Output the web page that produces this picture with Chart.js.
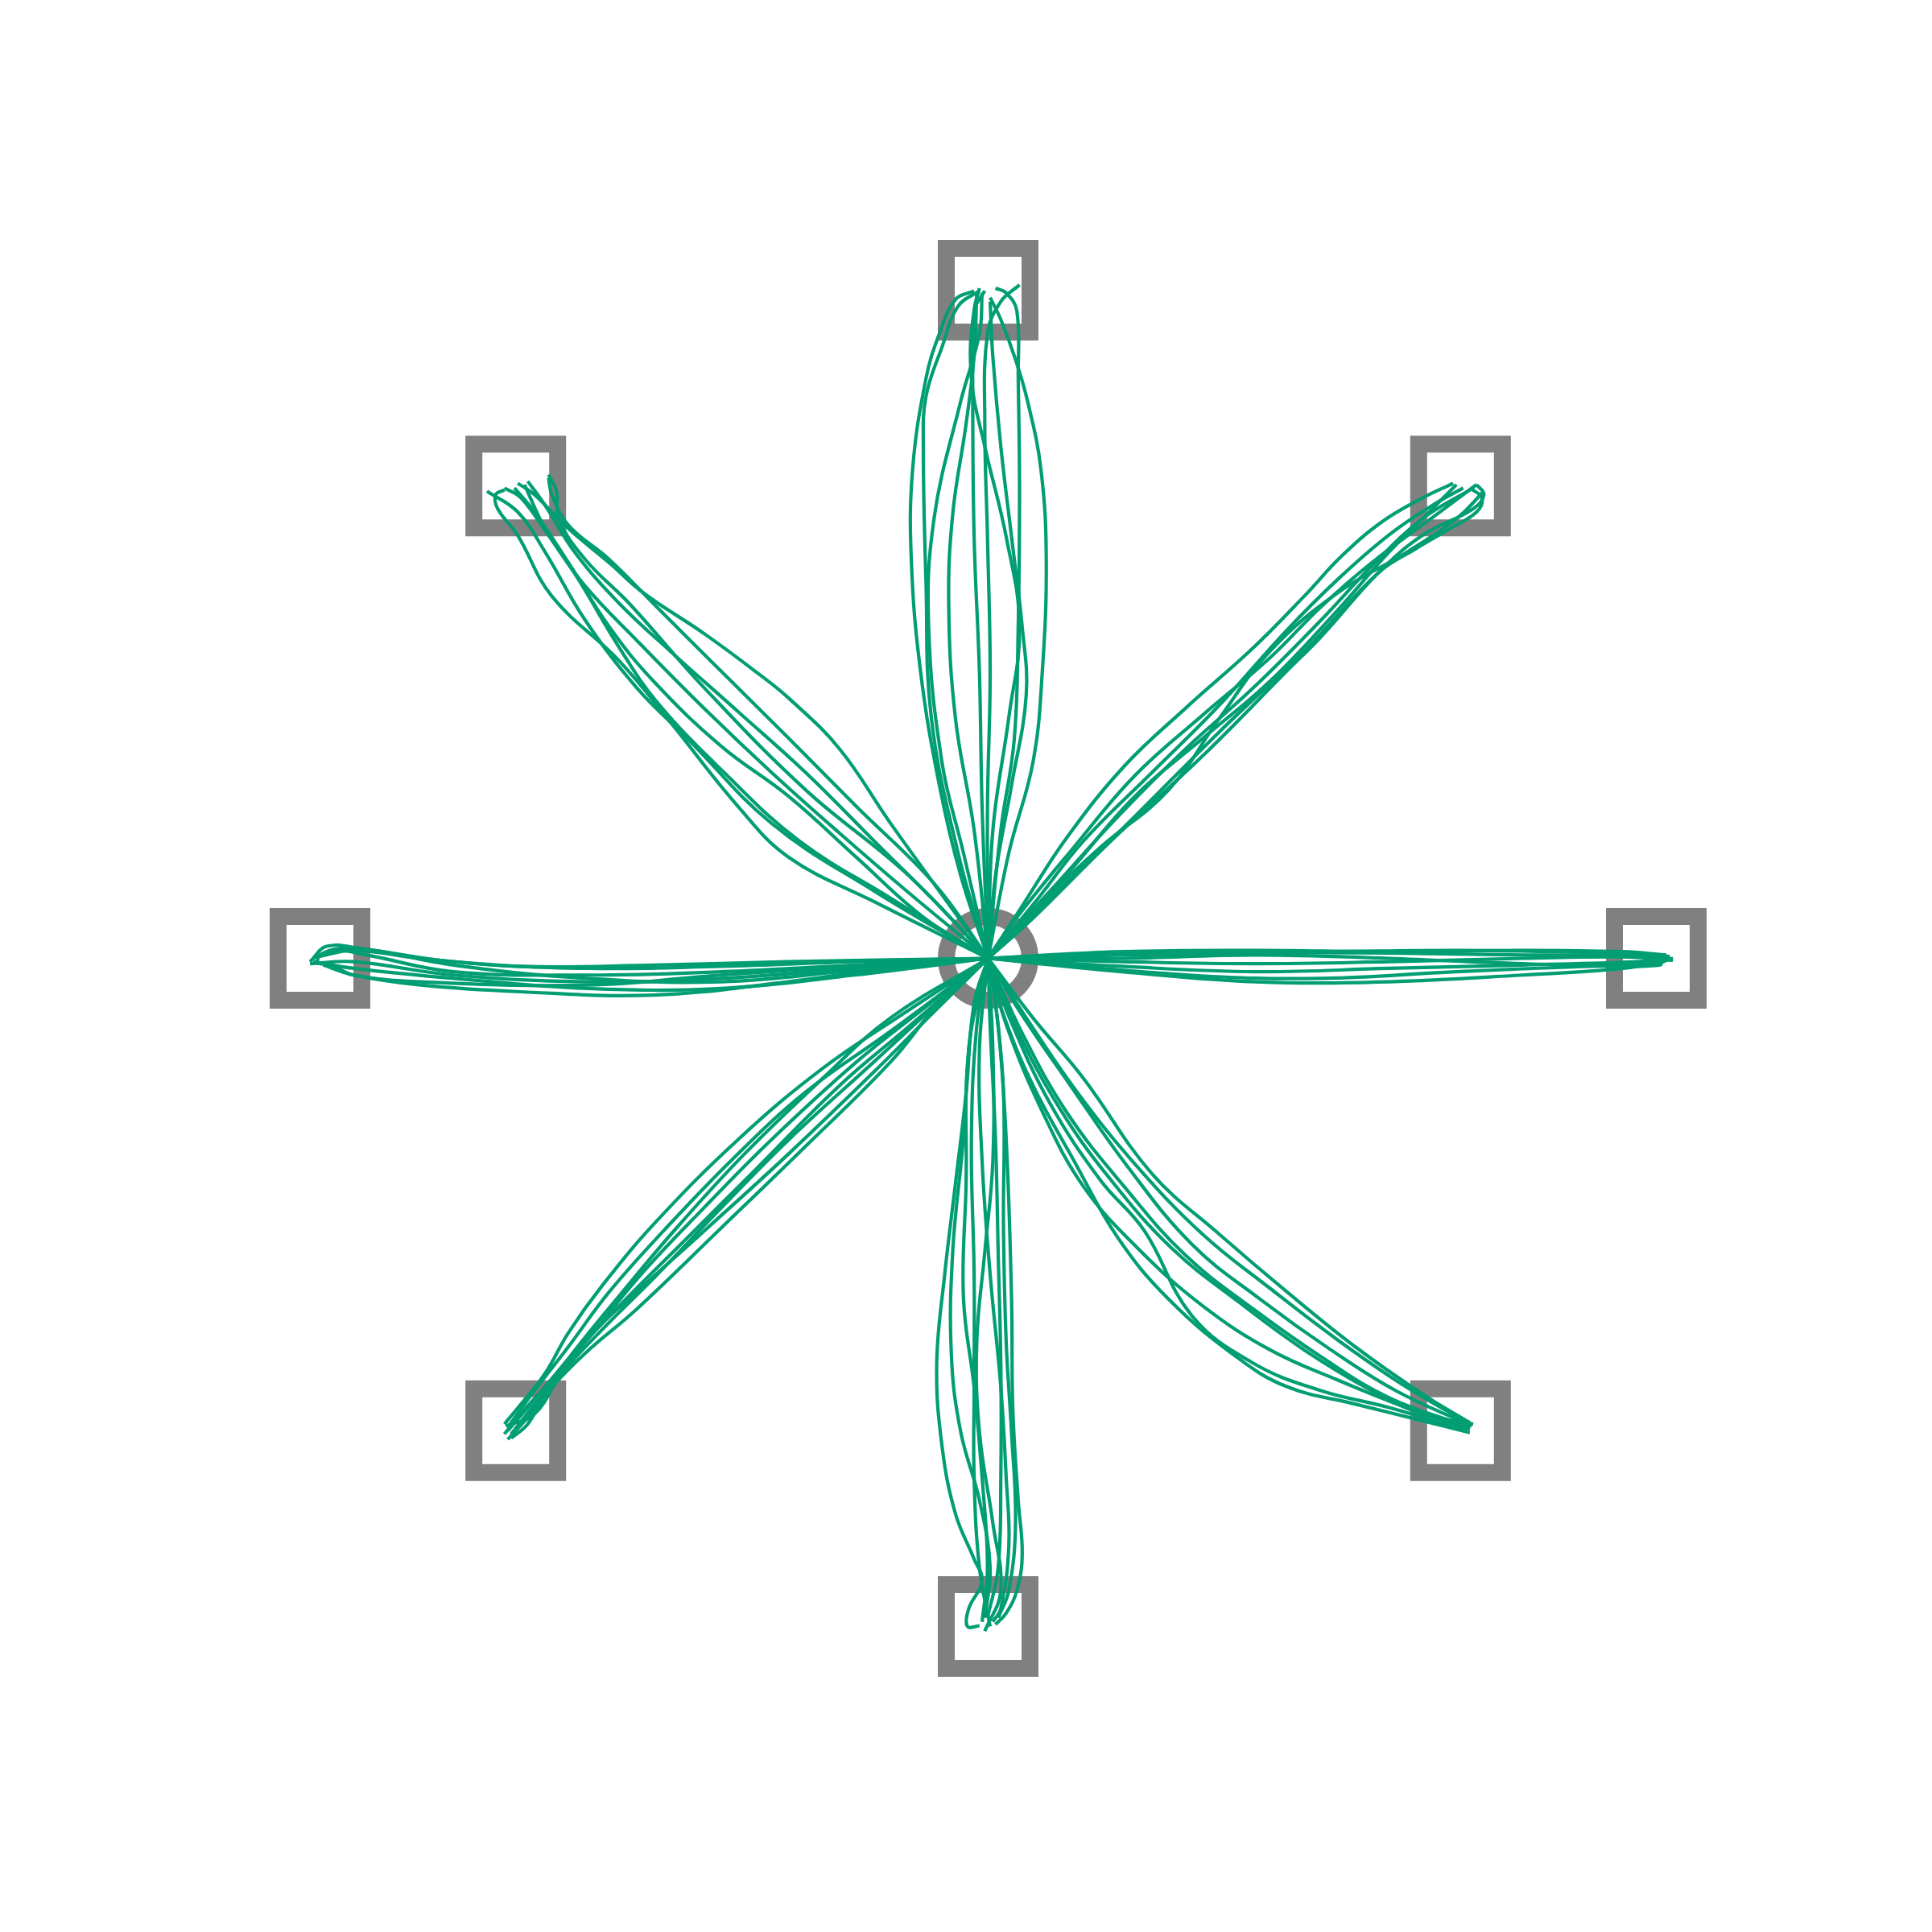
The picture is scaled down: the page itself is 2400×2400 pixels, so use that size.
<!DOCTYPE html>
<html>
<head>
<meta charset="utf-8">
<script src="https://cdn.jsdelivr.net/npm/chart.js@4.4.1/dist/chart.umd.min.js"></script>
<style>
  html, body { margin: 0; padding: 0; background: #ffffff; }
  #wrap { width: 2400px; height: 2400px; }
</style>
</head>
<body>
<div id="wrap"><canvas id="c" width="2400" height="2400"></canvas></div>
<script>
// Target positions (target distance 10)
const targetX = [0, 7.07, 10, 7.07, 0, -7.07, -10, -7.07];
const targetY = [10, 7.07, 0, -7.07, -10, -7.07, 0, 7.07];
const startX = [0];
const startY = [0];

// Reach trajectories, one list of [x, y] samples per movement
const reachUp = [
  [[0,0],[-0.41,1.24],[-0.73,2.59],[-1.01,4.28],[-1.15,5.97],[-1.13,7.32],[-0.93,8.68],[-0.73,9.35],[-0.49,9.86],[-0.21,9.99]],
  [[0,0],[-0.45,1.58],[-0.85,3.60],[-0.93,5.63],[-0.97,7.66],[-0.93,8.41],[-0.69,9.15],[-0.45,9.76],[-0.13,9.99]],
  [[0,0],[-0.37,1.58],[-0.69,2.93],[-0.89,4.96],[-0.81,6.58],[-0.41,8.34],[-0.13,9.35],[-0.09,9.96]],
  [[0,0],[-0.21,1.92],[-0.49,3.60],[-0.59,5.30],[-0.53,6.65],[-0.33,8.00],[-0.21,9.01],[-0.17,9.96]],
  [[0,0],[-0.09,2.25],[-0.13,4.28],[-0.21,6.31],[-0.23,8.34],[-0.21,9.69],[-0.13,10.03]],
  [[0,0],[0.07,1.91],[0.31,3.61],[0.47,4.96],[0.27,6.31],[-0.05,7.66],[-0.25,8.68],[-0.21,9.69],[-0.05,9.99]],
  [[0,0],[0.19,1.92],[0.39,3.27],[0.45,4.96],[0.47,6.99],[0.45,8.68],[0.43,9.69],[0.27,9.96],[0.11,10.03]],
  [[0,0],[0.31,1.58],[0.67,2.93],[0.81,4.28],[0.87,5.97],[0.79,7.32],[0.59,8.34],[0.39,9.02],[0.19,9.56],[0.03,9.89]],
  [[0,0],[0.11,1.24],[0.35,2.59],[0.57,3.94],[0.51,4.96],[0.35,6.31],[0.19,7.66],[0.07,9.01],[0.03,9.83]],
  [[0,0],[-0.01,2.25],[0.03,4.28],[-0.01,6.31],[-0.05,8.00],[-0.01,9.35],[0.19,9.83],[0.47,10.08]]
];

const reachUpRight = [
  [[0,0],[0.52,0.80],[1.18,1.81],[2.04,2.88],[2.95,3.74],[3.97,4.65],[4.73,5.42],[5.29,6.02],[5.89,6.53],[6.50,6.89],[6.96,7.11]],
  [[0,0],[0.67,0.80],[1.43,1.76],[2.45,2.78],[3.46,3.79],[4.47,4.91],[5.23,5.67],[5.99,6.33],[6.65,6.78],[7.11,7.04]],
  [[0,0],[0.92,1.00],[1.94,2.12],[2.95,3.13],[3.97,4.05],[4.98,5.06],[5.74,5.87],[6.50,6.58],[7.26,7.04]],
  [[0,0],[0.82,0.85],[1.69,1.67],[2.70,2.52],[3.46,3.59],[4.22,4.60],[5.23,5.47],[6.25,6.07],[7.01,6.58],[7.42,6.99]],
  [[0,0],[0.67,0.60],[1.84,1.76],[3.21,3.03],[4.47,4.30],[4.98,4.81],[5.84,5.77],[6.50,6.33],[7.26,6.73],[7.42,6.94],[7.31,7.09]],
  [[0,0],[0.52,0.50],[1.94,1.87],[3.46,3.39],[4.78,4.65],[5.84,5.77],[6.40,6.13],[6.91,6.43],[7.31,6.68],[7.39,6.89],[7.21,7.04]],
  [[0,0],[1.18,1.26],[2.19,2.42],[3.21,3.29],[4.22,4.15],[5.23,5.21],[5.99,6.07],[6.60,6.68],[7.01,7.09]],
  [[0,0],[0.42,0.60],[1.28,1.66],[2.19,2.73],[3.21,3.64],[4.22,4.50],[4.98,5.26],[5.74,5.92],[6.76,6.68],[7.31,7.09]]
];

const reachRight = [
  [[0,0],[2,-0.20],[4,-0.35],[6,-0.35],[8,-0.25],[9.5,-0.15],[10.2,-0.02]],
  [[0,0],[2,-0.12],[4,-0.20],[6,-0.15],[8,-0.10],[9.7,-0.05],[10.25,0.00]],
  [[0,0],[2,0.05],[4,0.08],[6,0.08],[8,0.05],[9.6,0.05],[10.2,0.02]],
  [[0,0],[2,0.10],[4,0.12],[6,0.10],[8,0.12],[9.5,0.10],[10.15,0.05]],
  [[0,0],[2,-0.05],[4,-0.08],[6,-0.05],[8,0.00],[9.6,0.02],[10.25,-0.03]],
  [[0,0],[2,0.00],[4,0.05],[6,0.00],[8,-0.08],[9.6,-0.10],[10.1,-0.05],[10.2,0.00]],
  [[0,0],[3,-0.25],[5,-0.30],[7,-0.20],[9,-0.12],[10.05,-0.10],[10.1,0.00]],
  [[0,0],[2,0.08],[5,0.10],[7,0.12],[8.5,0.10],[9.8,0.06],[10.2,0.03]]
];

const reachDownRight = [
  [[0,0],[0.67,-0.89],[1.43,-1.80],[2.45,-3.22],[3.46,-4.13],[4.47,-4.99],[5.49,-5.81],[6.50,-6.52],[7.21,-6.95]],
  [[0,0],[0.21,-0.79],[0.67,-1.90],[1.28,-3.02],[1.94,-4.18],[2.70,-5.10],[3.71,-5.96],[4.47,-6.41],[5.49,-6.67],[6.50,-6.92],[7.21,-7.10]],
  [[0,0],[0.32,-0.89],[0.92,-2.16],[1.68,-3.32],[2.34,-4.08],[3.05,-5.35],[3.97,-6.06],[4.98,-6.47],[5.99,-6.72],[7.16,-7.07]],
  [[0,0],[0.52,-1.14],[1.18,-2.31],[2.04,-3.42],[2.95,-4.44],[3.97,-5.25],[4.98,-5.96],[5.99,-6.57],[7.21,-7.02]],
  [[0,0],[0.42,-1.04],[1.08,-2.26],[1.84,-3.32],[2.75,-4.34],[3.76,-5.15],[4.73,-5.86],[5.74,-6.47],[6.50,-6.82],[7.26,-6.97]],
  [[0,0],[0.57,-0.89],[1.33,-2.00],[2.19,-3.07],[3.21,-4.13],[4.22,-4.94],[5.23,-5.71],[6.25,-6.41],[7.21,-6.97]],
  [[0,0],[0.27,-0.99],[0.82,-2.31],[1.43,-3.42],[2.24,-4.34],[3.21,-5.20],[4.22,-5.86],[5.23,-6.31],[6.25,-6.72],[7.21,-7.05]],
  [[0,0],[0.47,-0.79],[1.23,-1.90],[2.09,-3.12],[3.05,-4.28],[4.07,-5.10],[5.13,-5.86],[6.10,-6.47],[7.24,-7.00]]
];

const reachDown = [
  [[0,0],[-0.21,-0.67],[-0.33,-2.02],[-0.49,-3.38],[-0.65,-4.73],[-0.77,-6.08],[-0.69,-7.30],[-0.49,-8.31],[-0.21,-8.99],[-0.09,-9.32],[-0.29,-9.73],[-0.31,-10.00],[-0.13,-9.99]],
  [[0,0],[-0.25,-1.01],[-0.37,-2.70],[-0.53,-4.39],[-0.55,-5.94],[-0.41,-7.09],[-0.13,-8.11],[0.03,-9.12],[-0.05,-9.87]],
  [[0,0],[-0.29,-1.35],[-0.33,-3.38],[-0.37,-5.07],[-0.21,-6.42],[-0.09,-7.77],[-0.01,-9.12],[-0.09,-9.93]],
  [[0,0],[-0.17,-1.01],[-0.25,-2.70],[-0.21,-4.73],[-0.21,-6.42],[-0.21,-7.77],[-0.13,-9.12],[0.03,-10.00]],
  [[0,0],[-0.13,-1.35],[-0.09,-3.04],[0.03,-4.73],[0.19,-6.42],[0.27,-7.77],[0.31,-8.78],[0.19,-9.73],[0.07,-9.93]],
  [[0,0],[0.11,-0.67],[0.23,-2.02],[0.23,-4.05],[0.27,-5.74],[0.35,-7.09],[0.41,-8.45],[0.31,-9.46],[0.15,-9.87]],
  [[0,0],[0.15,-1.01],[0.27,-2.70],[0.35,-5.07],[0.37,-6.76],[0.45,-8.11],[0.51,-8.92],[0.43,-9.46],[0.27,-9.80],[0.11,-9.97]],
  [[0,0],[0.07,-1.35],[0.07,-3.04],[-0.05,-4.39],[-0.17,-5.74],[-0.13,-7.09],[0.07,-8.45],[0.19,-9.46],[-0.05,-10.07]],
  [[0,0],[0.03,-1.01],[0.11,-2.70],[0.15,-4.39],[0.19,-6.08],[0.19,-7.77],[0.15,-9.12],[-0.01,-9.87]]
];

const reachDownLeft = [
  [[0,0],[-1.21,-0.79],[-2.48,-1.65],[-3.74,-2.71],[-4.96,-3.93],[-5.77,-4.89],[-6.28,-5.60],[-6.63,-6.21],[-6.99,-6.67],[-7.24,-6.97]],
  [[0,0],[-1.46,-1.09],[-2.73,-2.00],[-3.84,-3.02],[-4.86,-4.08],[-5.67,-4.99],[-6.28,-5.81],[-6.79,-6.47],[-7.19,-7.02]],
  [[0,0],[-1.21,-1.04],[-2.22,-1.90],[-3.49,-3.17],[-4.50,-4.18],[-5.52,-5.20],[-6.28,-6.01],[-6.89,-6.72],[-7.19,-7.07]],
  [[0,0],[-0.70,-0.63],[-1.46,-1.55],[-2.73,-2.81],[-3.99,-4.03],[-5.26,-5.25],[-6.03,-5.91],[-6.58,-6.47],[-6.89,-6.87],[-7.19,-7.20]],
  [[0,0],[-0.80,-0.79],[-1.71,-1.70],[-2.98,-2.92],[-4.25,-4.08],[-5.26,-4.99],[-6.03,-5.71],[-6.63,-6.41],[-7.04,-6.87],[-7.24,-7.12]],
  [[0,0],[-0.95,-0.74],[-1.97,-1.55],[-3.24,-2.71],[-4.25,-3.73],[-5.16,-4.69],[-5.87,-5.55],[-6.53,-6.36],[-6.89,-6.97],[-7.14,-7.18]],
  [[0,0],[-1.46,-0.89],[-2.48,-1.80],[-3.64,-2.92],[-4.66,-4.03],[-5.52,-5.05],[-6.18,-5.86],[-6.63,-6.47],[-7.14,-7.12]],
  [[0,0],[-0.60,-0.53],[-1.71,-1.55],[-2.98,-2.71],[-3.99,-3.73],[-4.96,-4.74],[-5.77,-5.55],[-6.38,-6.21],[-6.79,-6.82],[-7.22,-7.00]]
];

const reachLeft = [
  [[0,0],[-1.5,-0.15],[-3,-0.35],[-5,-0.55],[-7,-0.50],[-8.5,-0.40],[-9.5,-0.25],[-9.95,-0.10]],
  [[0,0],[-2,-0.25],[-4,-0.45],[-6,-0.45],[-8,-0.30],[-9.5,-0.15],[-10.1,-0.05]],
  [[0,0],[-2,-0.15],[-4,-0.30],[-6,-0.35],[-8,-0.25],[-9.5,-0.05],[-10.15,-0.08]],
  [[0,0],[-2,-0.10],[-4,-0.20],[-6,-0.25],[-8,-0.20],[-9.3,0.05],[-9.8,0.12],[-10.1,0.00]],
  [[0,0],[-2,-0.05],[-4,-0.12],[-6,-0.15],[-8,-0.05],[-9.4,0.15],[-9.9,0.18],[-10.15,-0.05]],
  [[0,0],[-2,-0.18],[-4,-0.35],[-6,-0.30],[-8,-0.10],[-9.2,0.12],[-9.7,0.15],[-10.0,0.05],[-10.05,-0.08]],
  [[0,0],[-2,-0.12],[-4,-0.25],[-6,-0.40],[-8.5,-0.35],[-9.5,-0.25],[-9.8,-0.12],[-10.1,-0.06]],
  [[0,0],[-3,-0.05],[-5,-0.10],[-7,-0.12],[-8.5,0.00],[-9.5,0.12],[-10.05,0.02]]
];

const reachUpLeft = [
  [[0,0],[-1.46,2.02],[-2.22,3.13],[-2.98,3.89],[-3.49,4.30],[-4.25,4.86],[-5.16,5.47],[-5.67,5.92],[-6.28,6.43],[-6.79,6.94],[-7.04,7.11]],
  [[0,0],[-1.71,0.85],[-2.98,1.51],[-3.74,2.27],[-4.76,3.54],[-5.52,4.45],[-6.53,5.42],[-7.04,6.33],[-7.34,6.73],[-7.37,6.94],[-7.24,7.01]],
  [[0,0],[-0.95,0.60],[-1.97,1.51],[-2.98,2.42],[-4.00,3.18],[-5.01,4.15],[-5.67,4.96],[-6.28,5.92],[-6.79,6.68],[-7.09,7.04]],
  [[0,0],[-1.21,1.00],[-2.22,1.87],[-3.24,2.78],[-4.25,3.74],[-5.26,4.76],[-6.03,5.57],[-6.58,6.33],[-6.99,6.89],[-7.24,7.04]],
  [[0,0],[-1.46,0.90],[-2.83,1.76],[-3.95,2.78],[-4.96,3.84],[-5.52,4.65],[-6.13,5.67],[-6.63,6.43],[-6.94,7.09]],
  [[0,0],[-0.70,0.75],[-1.71,1.76],[-2.73,2.78],[-3.74,3.69],[-4.76,4.60],[-5.52,5.31],[-6.18,6.07],[-6.63,6.78],[-6.89,7.14]],
  [[0,0],[-0.80,1.11],[-1.97,2.27],[-2.98,3.29],[-4.00,4.30],[-5.01,5.31],[-5.67,5.97],[-6.28,6.48],[-6.53,6.94],[-6.58,7.19]],
  [[0,0],[-1.21,1.26],[-2.73,2.52],[-4.25,4.05],[-5.37,5.31],[-6.03,5.97],[-6.43,6.58],[-6.46,6.99],[-6.58,7.24]],
  [[0,0],[-1.71,1.01],[-3.24,2.02],[-4.50,3.29],[-5.26,4.05],[-6.03,5.06],[-6.63,6.08],[-7.04,6.68],[-7.50,6.99]]
];

const allReaches = [reachUp, reachUpRight, reachRight, reachDownRight, reachDown, reachDownLeft, reachLeft, reachUpLeft];

const PX_PER_UNIT = 83;
const GREEN = '#029E73';
const GREY = '#808080';

const datasets = [];
allReaches.forEach(group => {
  group.forEach(tr => {
    datasets.push({
      data: tr.map(p => ({ x: p[0], y: p[1] })),
      showLine: true,
      borderColor: GREEN,
      borderWidth: 4.2,
      pointRadius: 0,
      tension: 0.4,
      fill: false,
      order: 0
    });
  });
});

datasets.push({
  data: targetX.map((x, i) => ({ x: x, y: targetY[i] })),
  showLine: false,
  pointStyle: 'rect',
  pointRadius: 52 * Math.SQRT2,
  borderWidth: 21,
  borderColor: GREY,
  backgroundColor: 'rgba(0,0,0,0)',
  order: 1
});
datasets.push({
  data: startX.map((x, i) => ({ x: x, y: startY[i] })),
  showLine: false,
  pointStyle: 'circle',
  pointRadius: 52,
  borderWidth: 21,
  borderColor: GREY,
  backgroundColor: 'rgba(0,0,0,0)',
  order: 1
});

new Chart(document.getElementById('c'), {
  type: 'scatter',
  data: { datasets: datasets },
  options: {
    responsive: false,
    animation: false,
    devicePixelRatio: 1,
    layout: { padding: 0, autoPadding: false },
    plugins: { legend: { display: false }, tooltip: { enabled: false } },
    elements: { point: { hoverRadius: 0 } },
    scales: {
      x: { type: 'linear', display: false, min: -1227.5 / PX_PER_UNIT, max: 1172.5 / PX_PER_UNIT },
      y: { type: 'linear', display: false, min: -1209.5 / PX_PER_UNIT, max: 1190.5 / PX_PER_UNIT }
    }
  }
});
</script>
</body>
</html>
